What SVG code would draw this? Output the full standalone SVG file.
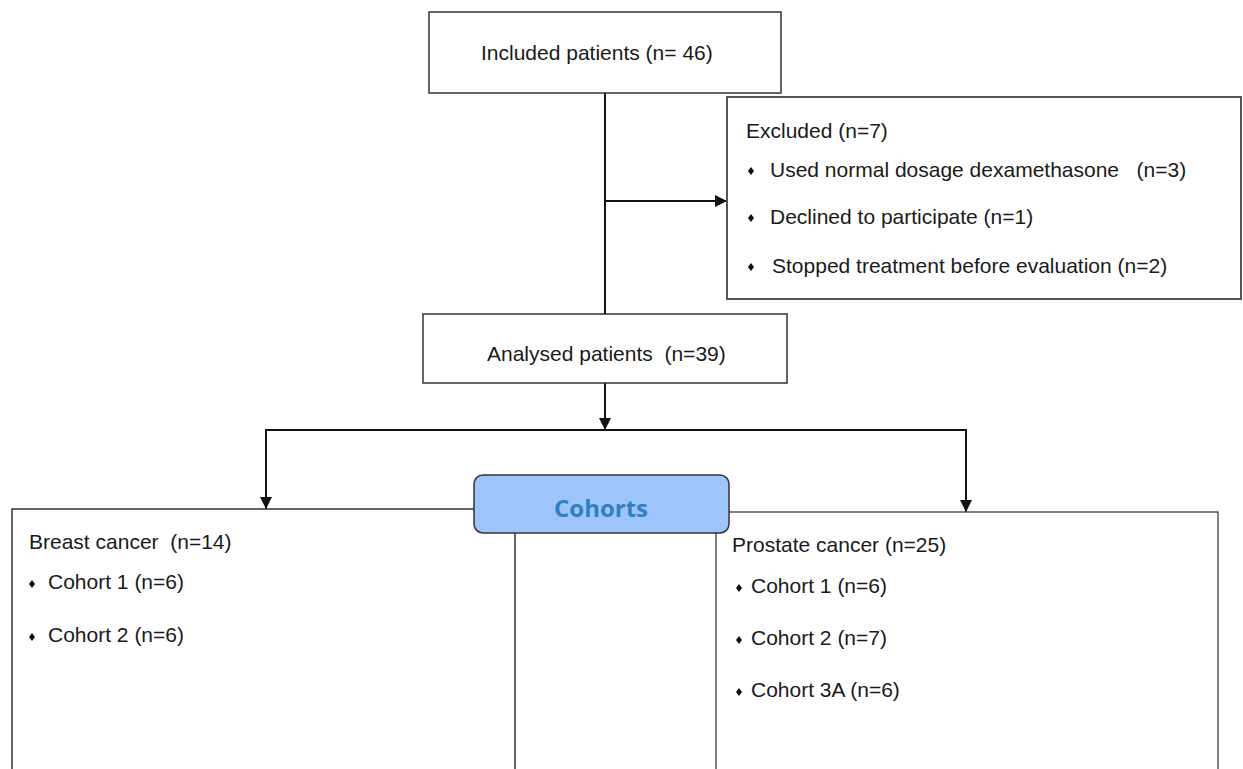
<svg xmlns="http://www.w3.org/2000/svg" width="1243" height="769" viewBox="0 0 1243 769">
<defs>
<style>
.box{fill:#fff;stroke:#333;stroke-width:1.5}
.t{font-family:"Liberation Sans",Arial,sans-serif;font-size:21px;fill:#1a1a1a}
.c{fill:none;stroke:#111;stroke-width:2}
.coh{font-family:"Open Sans","Noto Sans",sans-serif;font-weight:bold;font-size:24px;fill:#2E80BF}
</style>
<marker id="ah" viewBox="0 0 12 12" refX="12" refY="6" markerWidth="12" markerHeight="12" markerUnits="userSpaceOnUse" orient="auto">
<path d="M0,0 L12,6 L0,12 Z" fill="#111"/>
</marker>
<path id="dia" d="M0,-4 L3,0 L0,4 L-3,0 Z" fill="#111"/>
</defs>
<rect width="1243" height="769" fill="#fff"/>
<g id="connectors">
<line class="c" x1="605" y1="93" x2="605" y2="314"/>
<line class="c" x1="605" y1="201" x2="727" y2="201" marker-end="url(#ah)"/>
<line class="c" x1="605" y1="383" x2="605" y2="430" marker-end="url(#ah)"/>
<polyline class="c" points="266,509 266,430 966,430 966,512" marker-end="url(#ah)"/>
<line class="c" x1="266" y1="440" x2="266" y2="509" marker-end="url(#ah)"/>
</g>
<g id="included">
<rect class="box" x="429" y="12" width="352" height="81"/>
<text class="t" x="481" y="60">Included patients  (n= 46)</text>
</g>
<g id="excluded">
<rect class="box" x="727" y="97" width="514" height="202" style="stroke:#555;stroke-width:2"/>
<text class="t" x="746" y="138">Excluded (n=7)</text>
<use href="#dia" x="751" y="171"/>
<text class="t" x="770" y="177" xml:space="preserve">Used normal dosage dexamethasone   (n=3)</text>
<use href="#dia" x="751" y="218"/>
<text class="t" x="770" y="224">Declined to participate  (n=1)</text>
<use href="#dia" x="751" y="267"/>
<text class="t" x="772" y="273">Stopped treatment before evaluation  (n=2)</text>
</g>
<g id="analysed">
<rect class="box" x="423" y="314" width="364" height="69"/>
<text class="t" x="487" y="361" xml:space="preserve">Analysed patients  (n=39)</text>
</g>
<g id="breast">
<rect class="box" x="12" y="509" width="503" height="280"/>
<text class="t" x="29" y="549" xml:space="preserve">Breast cancer  (n=14)</text>
<use href="#dia" x="32" y="584"/>
<text class="t" x="48" y="589">Cohort 1 (n=6)</text>
<use href="#dia" x="32" y="637"/>
<text class="t" x="48" y="642">Cohort 2 (n=6)</text>
</g>
<g id="prostate">
<rect class="box" x="716" y="512" width="502" height="280" style="stroke:#555"/>
<text class="t" x="732" y="552">Prostate cancer (n=25)</text>
<use href="#dia" x="739" y="588"/>
<text class="t" x="751" y="593">Cohort 1 (n=6)</text>
<use href="#dia" x="739" y="640"/>
<text class="t" x="751" y="645">Cohort 2 (n=7)</text>
<use href="#dia" x="739" y="692"/>
<text class="t" x="751" y="697">Cohort 3A (n=6)</text>
</g>
<g id="cohorts">
<rect x="474" y="475" width="255" height="58" rx="9" fill="#9EC5FB" stroke="#333" stroke-width="1.5"/>
<text class="coh" x="601" y="517" text-anchor="middle">Cohorts</text>
</g>
</svg>
